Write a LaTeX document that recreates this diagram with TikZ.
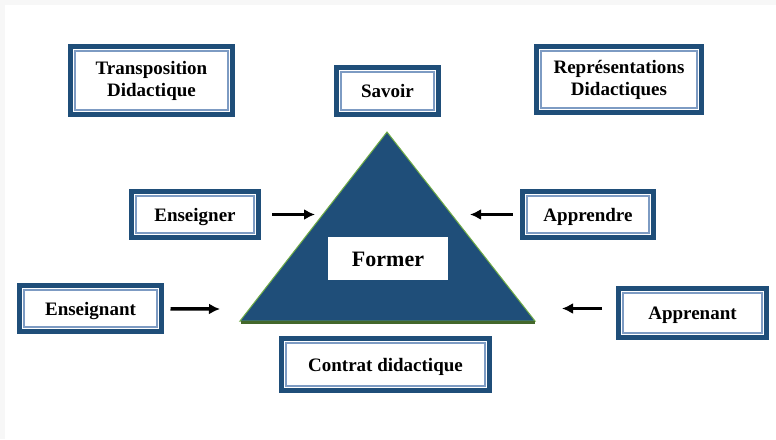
\documentclass[tikz,border=0pt]{standalone}
\usepackage{fontspec}
\setmainfont{Liberation Serif}
\usetikzlibrary{arrows.meta,calc}
\definecolor{dblue}{RGB}{31,78,121}
\definecolor{lblue}{RGB}{125,155,195}
\definecolor{lgreen}{RGB}{112,173,71}

\begin{document}
\begin{tikzpicture}[x=1pt, y=-1pt,
box/.style={draw=dblue, line width=5pt, fill=white, inner sep=0pt, align=center,
	font=\fontsize{19}{22}\selectfont\bfseries,
	path picture={\draw[lblue, line width=1.3pt] ($(path picture bounding box.south west)+(4.6pt,4.6pt)$) rectangle ($(path picture bounding box.north east)-(4.6pt,4.6pt)$);}},
oneline/.style={text height=13pt, text depth=0pt},
arr/.style={-{Latex[length=11pt,width=11pt]}, line width=3.5pt}]
\useasboundingbox (0,0) rectangle (776,439);
\fill[gray!6] (0,0) rectangle (776,439);
\fill[white] (5,5) rectangle (776,439);
% triangle
\coordinate (top) at (387,132);
\coordinate (bl) at (240,321);
\coordinate (br) at (535,321);
\filldraw[fill=dblue, draw=lgreen, line width=1pt] (top) -- (br) -- (bl) -- cycle;
\draw[lgreen!60!black, line width=2.5pt] ($(bl)+(1,1.5)$) -- ($(br)+(0,1.5)$);
\node[fill=white, inner sep=0pt, minimum width=120pt, minimum height=43pt, text height=15pt, text depth=0pt, font=\fontsize{22}{24}\selectfont\bfseries] (former) at (388,258.5) {Former};
% boxes
\node[box, minimum width=162pt, minimum height=68pt] (transposition) at (151.5,80.5) {Transposition\\Didactique};
\node[box, oneline, minimum width=102pt, minimum height=47pt] (savoir) at (387.5,91) {Savoir};
\node[box, minimum width=165pt, minimum height=66pt] (representations) at (619,79.5) {Représentations\\Didactiques};
\node[box, oneline, minimum width=127pt, minimum height=46pt] (enseigner) at (195,214.5) {Enseigner};
\node[box, oneline, minimum width=131pt, minimum height=46pt] (apprendre) at (588,214.5) {Apprendre};
\node[box, oneline, minimum width=142pt, minimum height=46pt] (enseignant) at (90.5,308.5) {Enseignant};
\node[box, oneline, minimum width=148pt, minimum height=49pt] (apprenant) at (692.5,313) {Apprenant};
\node[box, oneline, minimum width=208pt, minimum height=52pt] (contrat) at (385.5,364.5) {Contrat didactique};
% arrows
\coordinate (a1) at (315,214.5);
\coordinate (a2) at (470,214.5);
\coordinate (a3) at (220,309);
\coordinate (a4) at (562,308.5);
\draw[arr, shorten <=11pt] (enseigner) -- (a1);
\draw[arr, shorten <=7.5pt] (apprendre) -- (a2);
\draw[arr, shorten <=6.5pt] (enseignant) -- (a3);
\draw[arr, shorten <=14pt] (apprenant.west |- a4) -- (a4);
\end{tikzpicture}
\end{document}
